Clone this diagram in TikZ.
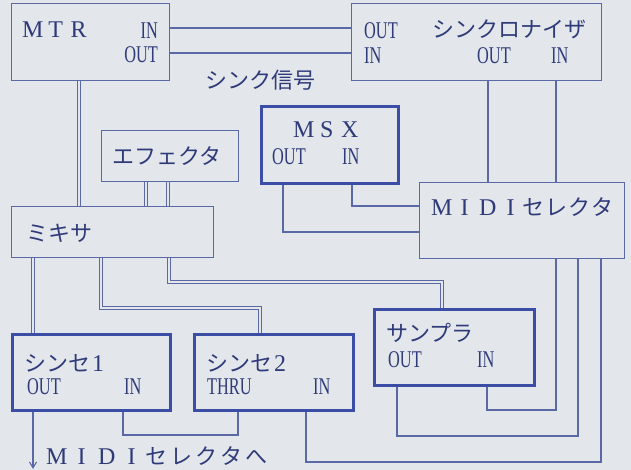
\documentclass[tikz,border=0pt]{standalone}
\usepackage{fontspec}
\setmainfont{Liberation Serif}
\newfontfamily\jpfont{Noto Sans CJK JP}
\newfontfamily\portfont[FakeStretch=0.68]{Liberation Serif}
\newcommand\cell[2][23pt]{\makebox[#1]{#2}}
\usetikzlibrary{arrows.meta,positioning}
\definecolor{paper}{HTML}{E3E7EC}
\definecolor{ink}{HTML}{5A69A6}
\definecolor{inkdark}{HTML}{3B4DA4}
\definecolor{txt}{HTML}{2F3A78}
\pgfdeclarelayer{bg}
\pgfsetlayers{bg,main}

\begin{document}
\begin{tikzpicture}[
  x=1pt, y=-1pt,
  box/.style={draw=ink, line width=1.2pt, anchor=north west, inner sep=0pt},
  thickbox/.style={box, draw=inkdark, line width=2.8pt},
  port/.style={text=txt, inner sep=0pt, anchor=west, font=\portfont\fontsize{24}{24}\selectfont},
  jp/.style={text=txt, inner sep=0pt, anchor=west, font=\jpfont\fontsize{22}{22}\selectfont},
  title/.style={text=txt, inner sep=0pt, anchor=west, font=\fontsize{24}{24}\selectfont},
  wire/.style={draw=ink, line width=1.1pt},
  dwire/.style={draw=ink, line width=0.8pt, double=paper, double distance=2.2pt}
]
\useasboundingbox (0,0) rectangle (631,470);

\node[box, minimum width=158pt, minimum height=77pt] (mtr) at (11,3) {};
\node[box, minimum width=250pt, minimum height=77pt] (sync) at (351,3) {};
\node[thickbox, minimum width=137pt, minimum height=77pt] (msx) at (260,105) {};
\node[box, minimum width=137pt, minimum height=51pt] (fx) at (101,130) {};
\node[box, minimum width=202pt, minimum height=51pt] (mix) at (11,206) {};
\node[box, minimum width=205pt, minimum height=76pt] (sel) at (419,182) {};
\node[thickbox, minimum width=158pt, minimum height=76pt] (syn1) at (11,333) {};
\node[thickbox, minimum width=159pt, minimum height=76pt] (syn2) at (193,333) {};
\node[thickbox, minimum width=160pt, minimum height=76pt] (smp) at (373,308) {};

\node[title] (mtrname) at (21,30) {\cell[23pt]{M}\cell[23pt]{T}\cell[23pt]{R}};
\node[port, anchor=east] (mtrin) at (158,31) {IN};
\node[port, anchor=east] (mtrout) at (158,55) {OUT};
\node[port] (syncout) at (364,31) {OUT};
\node[jp] (syncname) at (432,29) {シンクロナイザ};
\node[port] (syncin) at (364,56) {IN};
\node[port] (syncmidiout) at (477,56) {OUT};
\node[port] (syncmidiin) at (551,56) {IN};
\node[jp] (synclbl) at (205,80) {シンク信号};
\node[title] (msxname) at (292,130) {\cell{M}\cell{S}\cell{X}};
\node[port] (msxout) at (272,157) {OUT};
\node[port] (msxin) at (342,157) {IN};
\node[jp] (fxname) at (112,156) {エフェクタ};
\node[jp] (mixname) at (26,233) {ミキサ};
\node[title] (selname) at (430,207) {\cell{M}\cell{I}\cell{D}\cell{I}\jpfont\fontsize{22}{22}\selectfont\cell{セ}\cell{レ}\cell{ク}\cell{タ}};
\node[jp] (syn1name) at (24,363) {シンセ{\rmfamily\fontsize{24}{24}\selectfont\cell[16pt]{1}}};
\node[port] (syn1out) at (27,387) {OUT};
\node[port] (syn1in) at (124,387) {IN};
\node[jp] (syn2name) at (206,363) {シンセ{\rmfamily\fontsize{24}{24}\selectfont\cell[16pt]{2}}};
\node[port] (syn2thru) at (207,387) {THRU};
\node[port] (syn2in) at (313,387) {IN};
\node[jp] (smpname) at (386,333) {サンプラ};
\node[port] (smpout) at (388,360) {OUT};
\node[port] (smpin) at (477,360) {IN};
\node[title] (selnote) at (44,456) {\cell[25pt]{M}\cell[25pt]{I}\cell[25pt]{D}\cell[25pt]{I}\jpfont\fontsize{22}{22}\selectfont\cell[25pt]{セ}\cell[25pt]{レ}\cell[25pt]{ク}\cell[25pt]{タ}\cell[25pt]{へ}};
\coordinate (toSel) at (33,469);

\begin{pgfonlayer}{bg}
\fill[paper] (0,0) rectangle (631,470);
\draw[wire] (mtr.east |- 0,28) -- (sync.west |- 0,28);
\draw[wire] (mtr.east |- 0,53) -- (sync.west |- 0,53);
\draw[wire] (sync.south -| 488,0) -- (sel.north -| 488,0);
\draw[wire] (sync.south -| 556,0) -- (sel.north -| 556,0);
\draw[wire] (msx.south -| 283,0) |- (sel.west |- 0,232);
\draw[wire] (msx.south -| 352,0) |- (sel.west |- 0,206);
\draw[dwire] (mtr.south -| 79,0) -- (mix.north -| 79,0);
\draw[dwire] (fx.south -| 146,0) -- (mix.north -| 146,0);
\draw[dwire] (fx.south -| 168,0) -- (mix.north -| 168,0);
\draw[dwire] (mix.south -| 33,0) -- (syn1.north -| 33,0);
\draw[dwire] (mix.south -| 101,0) |- (260,308) -- (syn2.north -| 260,0);
\draw[dwire] (mix.south -| 169,0) |- (442,282) -- (smp.north -| 442,0);
\draw[wire] (syn1.south -| 123,0) |- (238,435) -- (syn2.south -| 238,0);
\draw[wire] (syn2.south -| 306,0) |- (601,462) -- (sel.south -| 601,0);
\draw[wire] (smp.south -| 397,0) |- (578,436) -- (sel.south -| 578,0);
\draw[wire] (smp.south -| 487,0) |- (556,410) -- (sel.south -| 556,0);
\draw[wire, -{Straight Barb[length=6pt, width=7pt]}] (syn1.south -| 33,0) -- (toSel);
\end{pgfonlayer}
\end{tikzpicture}
\end{document}
